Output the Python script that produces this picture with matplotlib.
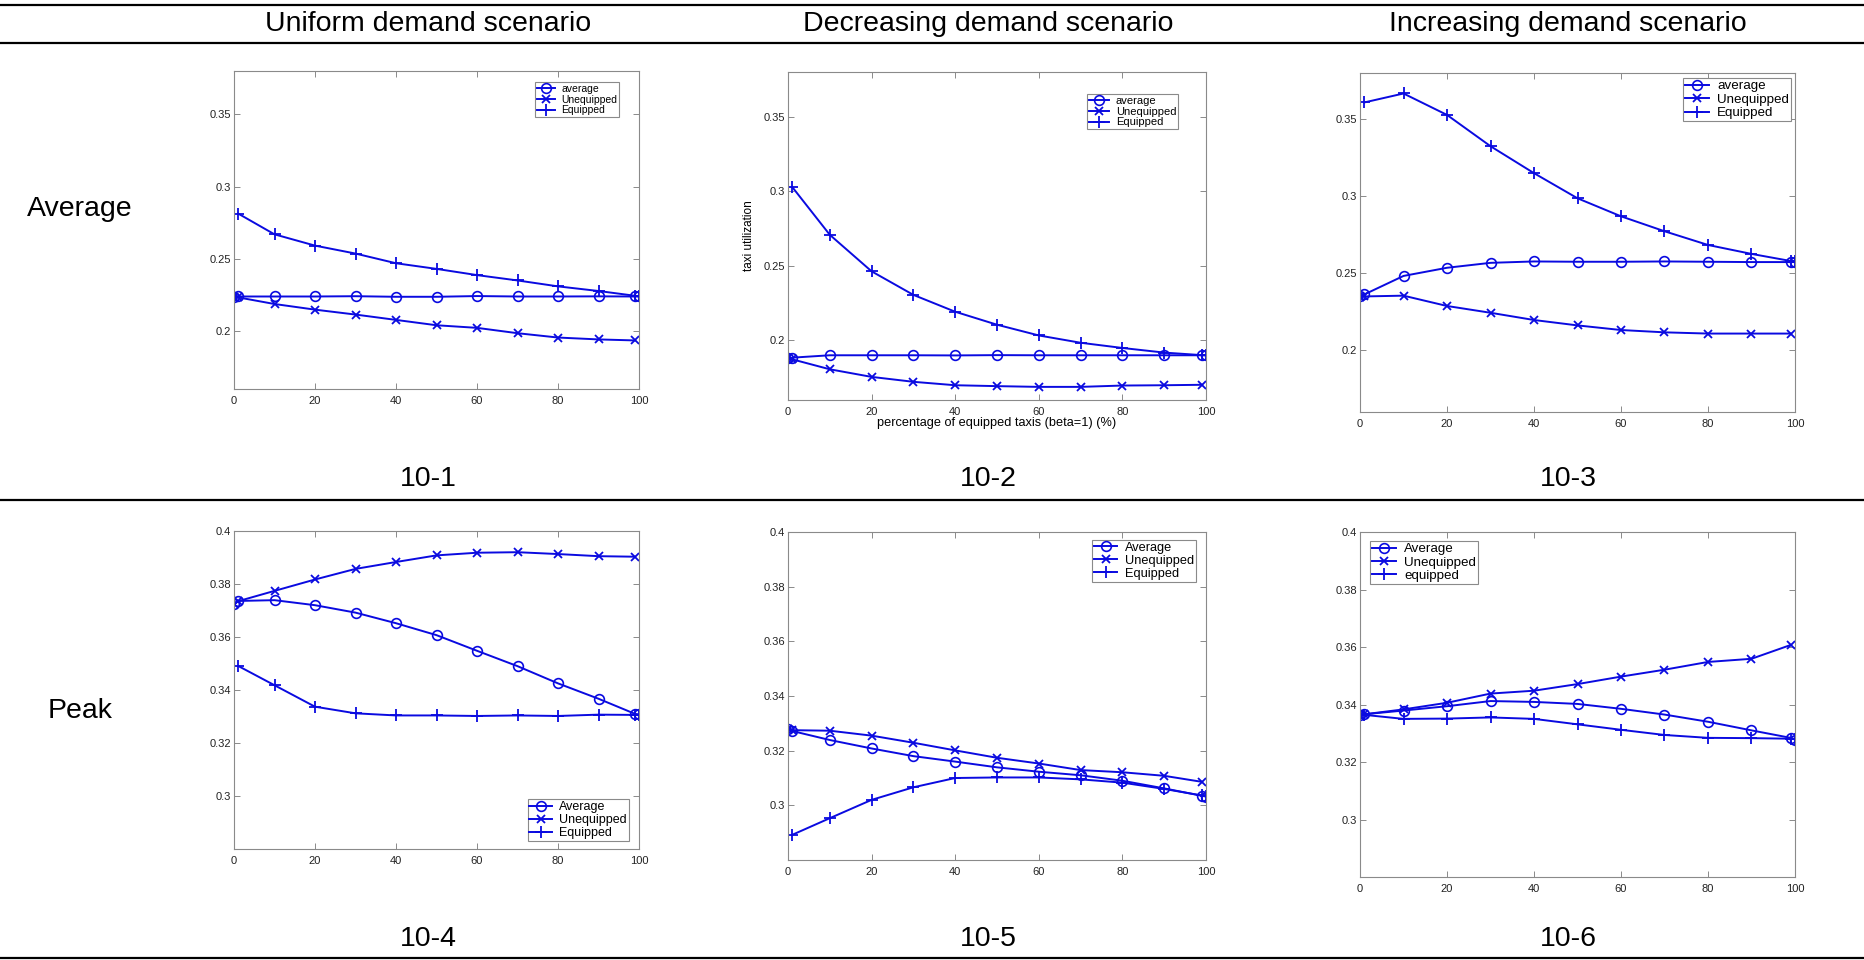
import matplotlib
matplotlib.use("Agg")
import matplotlib.pyplot as plt
from matplotlib.lines import Line2D

plt.rcParams["font.family"] = ["Liberation Sans", "DejaVu Sans"]

W, H = 1865, 960

# ── data ────────────────────────────────────────────────────────────────────
x_avg = [0, 1, 10, 20, 30, 40, 50, 60, 70, 80, 90, 99, 100]
x_uneq = [0, 1, 10, 20, 30, 40, 50, 60, 70, 80, 90, 99]
x_eq = [1, 10, 20, 30, 40, 50, 60, 70, 80, 90, 99, 100]

# 10-1 uniform / average
avg1 = [0.2237, 0.2240, 0.2240, 0.2240, 0.2242, 0.2238, 0.2238, 0.2243, 0.2240, 0.2240, 0.2241, 0.2240, 0.2240]
uneq1 = [0.2237, 0.2234, 0.2188, 0.2149, 0.2115, 0.2078, 0.2041, 0.2023, 0.1986, 0.1956, 0.1943, 0.1936]
eq1 = [0.2814, 0.2670, 0.2592, 0.2537, 0.2470, 0.2431, 0.2388, 0.2351, 0.2310, 0.2278, 0.2245, 0.2241]

# 10-2 decreasing / average
avg2 = [0.1880, 0.1884, 0.1900, 0.1900, 0.1900, 0.1899, 0.1901, 0.1900, 0.1900, 0.1900, 0.1900, 0.1900, 0.1900]
uneq2 = [0.1880, 0.1873, 0.1806, 0.1755, 0.1722, 0.1699, 0.1693, 0.1688, 0.1688, 0.1697, 0.1699, 0.1702]
eq2 = [0.3029, 0.2708, 0.2463, 0.2305, 0.2192, 0.2105, 0.2033, 0.1984, 0.1949, 0.1918, 0.1901, 0.1900]

# 10-3 increasing / average
avg3 = [0.2353, 0.2363, 0.2483, 0.2536, 0.2568, 0.2577, 0.2575, 0.2575, 0.2577, 0.2575, 0.2573, 0.2573, 0.2573]
uneq3 = [0.2346, 0.2350, 0.2355, 0.2288, 0.2244, 0.2197, 0.2162, 0.2132, 0.2117, 0.2109, 0.2109, 0.2109]
eq3 = [0.3609, 0.3667, 0.3528, 0.3325, 0.3150, 0.2987, 0.2870, 0.2773, 0.2684, 0.2626, 0.2580, 0.2577]

# 10-4 uniform / peak
avg4 = [0.3724, 0.3736, 0.3739, 0.3720, 0.3692, 0.3652, 0.3607, 0.3548, 0.3490, 0.3425, 0.3367, 0.3310, 0.3308]
uneq4 = [0.3724, 0.3735, 0.3774, 0.3817, 0.3857, 0.3883, 0.3908, 0.3918, 0.3920, 0.3913, 0.3905, 0.3903]
eq4 = [0.3491, 0.3418, 0.3337, 0.3312, 0.3304, 0.3304, 0.3302, 0.3304, 0.3302, 0.3307, 0.3306, 0.3305]

# 10-5 decreasing / peak
avg5 = [0.3278, 0.3272, 0.3239, 0.3208, 0.3180, 0.3160, 0.3139, 0.3123, 0.3110, 0.3090, 0.3062, 0.3035, 0.3032]
uneq5 = [0.3278, 0.3275, 0.3273, 0.3255, 0.3229, 0.3201, 0.3174, 0.3153, 0.3129, 0.3121, 0.3108, 0.3086]
eq5 = [0.2892, 0.2953, 0.3020, 0.3066, 0.3100, 0.3102, 0.3102, 0.3095, 0.3083, 0.3060, 0.3036, 0.3034]

# 10-6 increasing / peak
avg6 = [0.3364, 0.3366, 0.3379, 0.3394, 0.3412, 0.3409, 0.3402, 0.3385, 0.3365, 0.3340, 0.3310, 0.3284, 0.3278]
uneq6 = [0.3364, 0.3366, 0.3383, 0.3406, 0.3438, 0.3448, 0.3471, 0.3497, 0.3521, 0.3548, 0.3559, 0.3607]
eq6 = [0.3364, 0.3350, 0.3351, 0.3355, 0.3350, 0.3331, 0.3312, 0.3294, 0.3284, 0.3283, 0.3281, 0.3281]

headers = ["Uniform demand scenario", "Decreasing demand scenario", "Increasing demand scenario"]
row_names = ["Average", "Peak"]
captions = ["10-1", "10-2", "10-3", "10-4", "10-5", "10-6"]

labels_lower = ["average", "Unequipped", "Equipped"]
labels_upper = ["Average", "Unequipped", "Equipped"]
labels_6 = ["Average", "Unequipped", "equipped"]

xticks = [0, 20, 40, 60, 80, 100]
yticks_avg = [0.2, 0.25, 0.3, 0.35]
ytl_avg = ["0.2", "0.25", "0.3", "0.35"]
yticks_peak = [0.3, 0.32, 0.34, 0.36, 0.38, 0.4]
ytl_peak = ["0.3", "0.32", "0.34", "0.36", "0.38", "0.4"]

BLUE = "#0a0ae0"
SPINE = "#8a8a8a"
BIG = 20.5

fig = plt.figure(figsize=(W / 100, H / 100), dpi=100)


def px_axes(left, top, right, bottom):
    return fig.add_axes([left / W, 1 - bottom / H, (right - left) / W, (bottom - top) / H])


def panel(ax, avg, uneq, eq, labels, ylim, yt, ytl, leg_loc, leg_anchor, leg_fs):
    ax.plot(x_avg, avg, color=BLUE, lw=1.4, marker="o", ms=7, mfc="none", mew=1.2, label=labels[0])
    ax.plot(x_uneq, uneq, color=BLUE, lw=1.4, marker="x", ms=6, mew=1.3, label=labels[1])
    ax.plot(x_eq, eq, color=BLUE, lw=1.4, marker="+", ms=9, mew=1.3, label=labels[2])
    ax.set_xlim(0, 100)
    ax.set_ylim(*ylim)
    ax.set_xticks(xticks)
    ax.set_xticklabels([str(v) for v in xticks])
    ax.set_yticks(yt)
    ax.set_yticklabels(ytl)
    ax.tick_params(direction="in", length=4, width=0.7, color=SPINE, labelsize=8,
                   top=True, right=True, labelcolor="#222222")
    ax.tick_params(axis="y", pad=2)
    ax.tick_params(axis="x", pad=5)
    for s in ax.spines.values():
        s.set_color(SPINE)
        s.set_linewidth(0.8)
    leg = ax.legend(loc=leg_loc, bbox_to_anchor=leg_anchor, fontsize=leg_fs, frameon=True,
                    fancybox=False, edgecolor=SPINE, framealpha=1, borderpad=0.15,
                    labelspacing=0.08, handlelength=1.8, handletextpad=0.6, borderaxespad=0)
    leg.get_frame().set_linewidth(0.8)


# ── panels ──────────────────────────────────────────────────────────────────
ax1 = px_axes(234, 71, 639, 389)
panel(ax1, avg1, uneq1, eq1, labels_lower, (0.16, 0.38), yticks_avg, ytl_avg,
      "upper right", (0.951, 0.965), 7.5)

ax2 = px_axes(788, 72, 1206, 400)
panel(ax2, avg2, uneq2, eq2, labels_lower, (0.16, 0.38), yticks_avg, ytl_avg,
      "upper right", (0.933, 0.933), 8)
ax2.set_ylabel("taxi utilization", fontsize=8.5, labelpad=6)
ax2.set_xlabel("percentage of equipped taxis (beta=1) (%)", fontsize=9.2, labelpad=0)

ax3 = px_axes(1360, 73, 1795, 412)
panel(ax3, avg3, uneq3, eq3, labels_lower, (0.16, 0.38), yticks_avg, ytl_avg,
      "upper right", (0.991, 0.985), 9.6)

ax4 = px_axes(234, 531, 639, 849)
panel(ax4, avg4, uneq4, eq4, labels_upper, (0.28, 0.4), yticks_peak, ytl_peak,
      "lower right", (0.975, 0.025), 9)

ax5 = px_axes(788, 532, 1206, 860)
panel(ax5, avg5, uneq5, eq5, labels_upper, (0.28, 0.4), yticks_peak, ytl_peak,
      "upper right", (0.976, 0.976), 9.2)

ax6 = px_axes(1360, 532, 1795, 877)
panel(ax6, avg6, uneq6, eq6, labels_6, (0.28, 0.4), yticks_peak, ytl_peak,
      "upper left", (0.023, 0.974), 9.6)

# ── table frame and text ────────────────────────────────────────────────────
for y in (5, 43, 500, 958):
    fig.add_artist(Line2D([0, 1], [1 - y / H, 1 - y / H], color="black", lw=1.6,
                          transform=fig.transFigure))

col_x = [428, 988, 1568]
for cx, txt in zip(col_x, headers):
    fig.text(cx / W, 1 - 24 / H, txt, ha="center", va="center", fontsize=BIG)

fig.text(80 / W, 1 - 209 / H, row_names[0], ha="center", va="center", fontsize=BIG)
fig.text(80 / W, 1 - 711 / H, row_names[1], ha="center", va="center", fontsize=BIG)

cap_y = [479, 939]
for i, cap in enumerate(captions):
    fig.text(col_x[i % 3] / W, 1 - cap_y[i // 3] / H, cap, ha="center", va="center", fontsize=BIG)

fig.savefig("out.png", dpi=100)
